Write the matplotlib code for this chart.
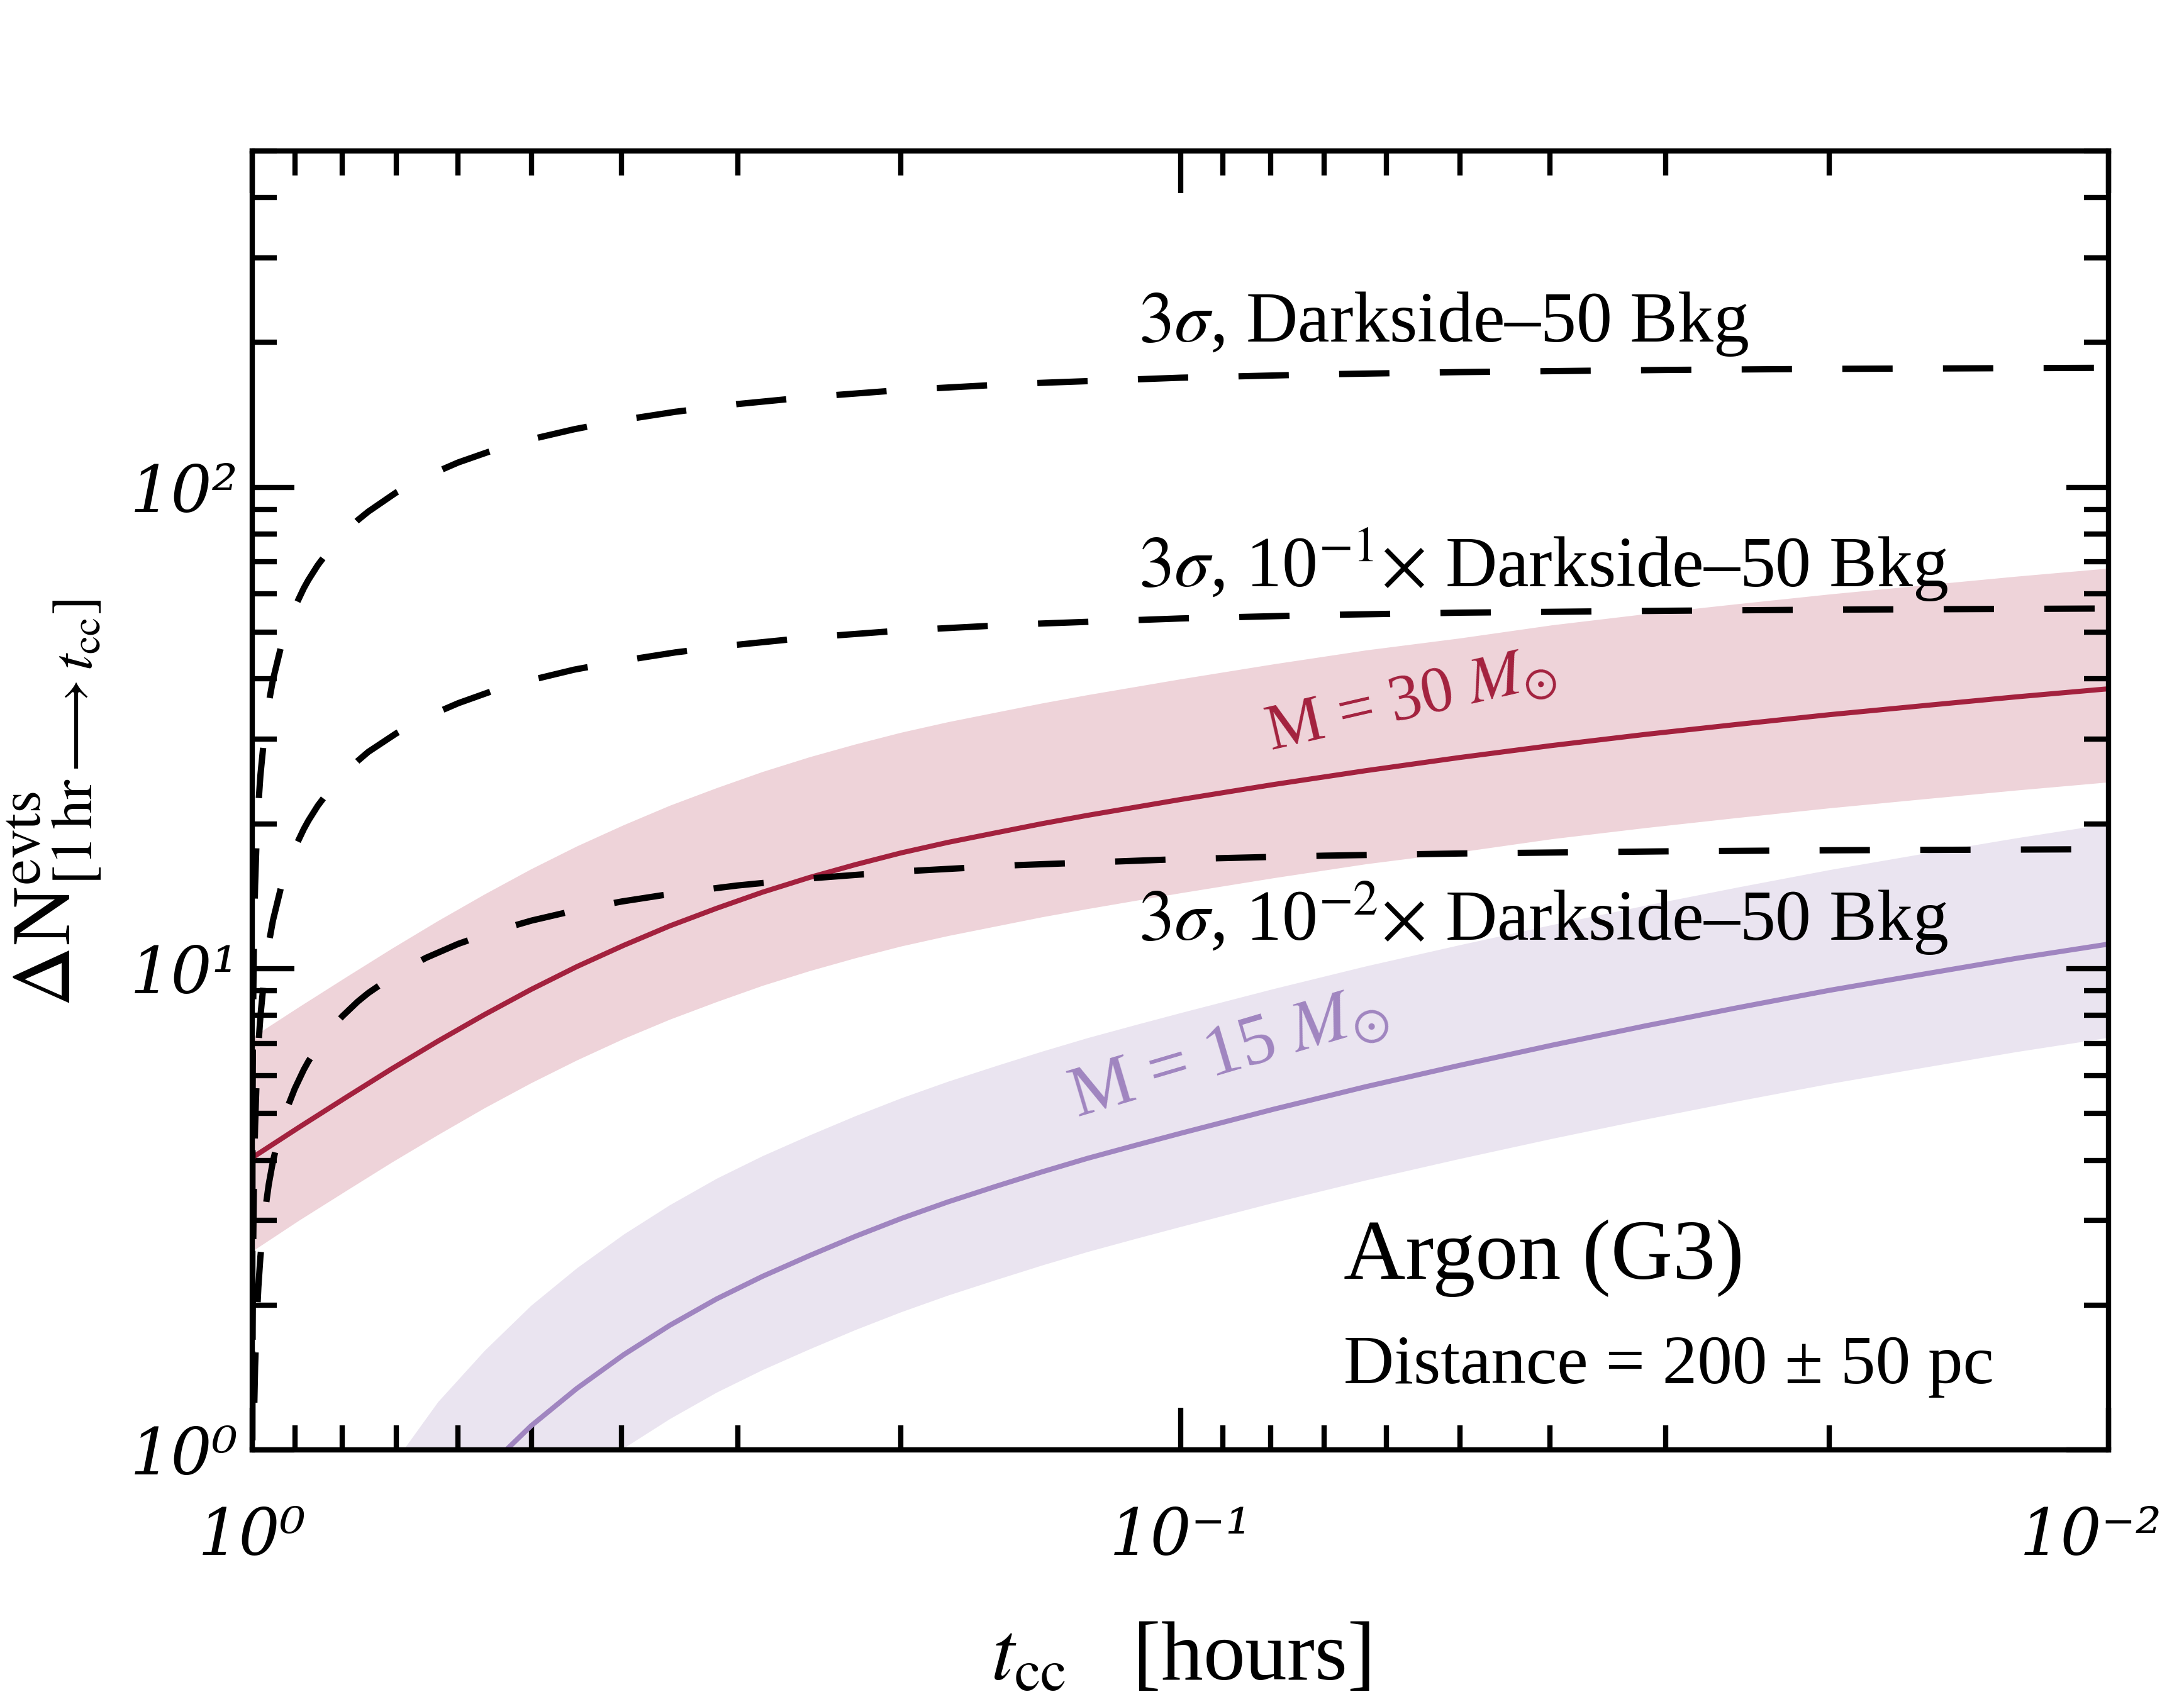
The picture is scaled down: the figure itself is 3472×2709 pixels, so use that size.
import numpy as np
import matplotlib
matplotlib.use('Agg')
import matplotlib.pyplot as plt
from matplotlib.ticker import LogLocator, NullFormatter
from matplotlib.transforms import ScaledTranslation

plt.rcParams['font.family'] = ['Liberation Serif', 'DejaVu Serif']
plt.rcParams['mathtext.fontset'] = 'stix'

# time before core collapse [hours], grid for the background thresholds
t_bkg = [0.99995, 0.9999, 0.9995, 0.999, 0.998, 0.996, 0.993, 0.99, 0.985, 0.98,
         0.97, 0.96, 0.95, 0.93, 0.915, 0.9, 0.88, 0.87, 0.85, 0.82,
         0.8, 0.77, 0.75, 0.7, 0.65, 0.6, 0.55, 0.5, 0.45, 0.4,
         0.35, 0.3, 0.25, 0.2, 0.15, 0.1, 0.07, 0.05, 0.03, 0.02, 0.01]

# 3 sigma thresholds
bkg_full = [1.26, 1.78, 3.98, 5.63, 7.96, 11.26, 14.9, 17.8, 21.8, 25.2,
            30.8, 35.6, 39.8, 47.1, 51.9, 56.3, 61.7, 64.2, 68.9, 75.5,
            79.6, 85.4, 89.0, 97.5, 105.3, 112.6, 119.4, 125.9, 132.0, 137.9,
            143.5, 148.9, 154.1, 159.2, 164.1, 168.9, 171.7, 173.5, 175.3, 176.2, 177.1]
bkg_tenth = [0.40, 0.563, 1.26, 1.78, 2.52, 3.56, 4.71, 5.63, 6.90, 7.96,
             9.75, 11.26, 12.59, 14.9, 16.4, 17.8, 19.5, 20.3, 21.8, 23.9,
             25.2, 27.0, 28.2, 30.8, 33.3, 35.6, 37.8, 39.8, 41.8, 43.6,
             45.4, 47.1, 48.8, 50.4, 51.9, 53.4, 54.3, 54.9, 55.4, 55.7, 56.0]
bkg_hundredth = [0.126, 0.178, 0.398, 0.563, 0.796, 1.126, 1.49, 1.78, 2.18, 2.52,
                 3.08, 3.56, 3.98, 4.71, 5.19, 5.63, 6.17, 6.42, 6.89, 7.55,
                 7.96, 8.54, 8.90, 9.75, 10.53, 11.26, 11.94, 12.59, 13.20, 13.79,
                 14.35, 14.89, 15.41, 15.92, 16.41, 16.89, 17.17, 17.35, 17.53, 17.62, 17.71]

# signal grid
t_sig = [1.0, 0.891, 0.794, 0.708, 0.631, 0.562, 0.501, 0.447, 0.398, 0.355, 0.316,
         0.282, 0.251, 0.224, 0.200, 0.178, 0.158, 0.141, 0.126, 0.112, 0.1,
         0.0794, 0.0631, 0.0501, 0.0398, 0.0316, 0.0251, 0.02, 0.0158, 0.0126, 0.01]

# M = 30 Msun at 200 pc (centre), 150 pc (upper edge), 250 pc (lower edge)
m30_mid = [4.05, 4.68, 5.39, 6.19, 7.07, 8.03, 9.05, 10.10, 11.18, 12.27, 13.35,
           14.42, 15.47, 16.45, 17.40, 18.30, 19.16, 20.01, 20.82, 21.64, 22.46,
           24.13, 25.79, 27.45, 29.08, 30.66, 32.18, 33.70, 35.20, 36.69, 38.15]
m30_hi = [7.21, 8.33, 9.59, 11.01, 12.58, 14.29, 16.11, 17.98, 19.90, 21.84, 23.76,
          25.67, 27.54, 29.28, 30.97, 32.57, 34.10, 35.62, 37.06, 38.52, 39.98,
          42.95, 45.91, 48.59, 51.76, 54.57, 57.28, 59.99, 62.66, 65.31, 67.91]
m30_lo = [2.59, 3.00, 3.45, 3.96, 4.52, 5.14, 5.79, 6.46, 7.16, 7.85, 8.54,
          9.23, 9.90, 10.53, 11.14, 11.71, 12.26, 12.81, 13.32, 13.85, 14.37,
          15.44, 16.51, 17.47, 18.61, 19.62, 20.60, 21.57, 22.53, 23.48, 24.42]

# M = 15 Msun
m15_mid = [0.158, 0.245, 0.363, 0.520, 0.708, 0.905, 1.122, 1.343, 1.578, 1.816, 2.061,
           2.296, 2.535, 2.780, 3.027, 3.278, 3.532, 3.784, 4.036, 4.293, 4.550,
           5.105, 5.689, 6.295, 6.934, 7.603, 8.299, 9.016, 9.750, 10.50, 11.25]
m15_hi = [0.281, 0.437, 0.646, 0.926, 1.260, 1.611, 1.997, 2.391, 2.809, 3.232, 3.669,
          4.087, 4.512, 4.948, 5.388, 5.835, 6.287, 6.736, 7.184, 7.642, 8.099,
          9.087, 10.13, 11.20, 12.34, 13.53, 14.77, 16.05, 17.36, 18.68, 20.02]
m15_lo = [0.101, 0.157, 0.232, 0.333, 0.453, 0.579, 0.718, 0.860, 1.010, 1.162, 1.319,
          1.469, 1.622, 1.779, 1.937, 2.098, 2.260, 2.422, 2.583, 2.748, 2.912,
          3.267, 3.640, 4.029, 4.438, 4.866, 5.311, 5.770, 6.240, 6.718, 7.197]

x_ticks = [1, 0.1, 0.01]
x_ticklabels = ['10⁰', '10⁻¹', '10⁻²']
y_ticks = [1, 10, 100]
y_ticklabels = ['10⁰', '10¹', '10²']

red = '#a3213e'
red_band = '#eed3d9'
purple = '#a085c0'
purple_band = '#eae4f0'

fig = plt.figure(figsize=(17.36, 13.545), dpi=200)
ax = fig.add_axes([0.1155, 0.149, 0.85, 0.7625])

ax.fill_between(t_sig, m30_lo, m30_hi, color=red_band, lw=0)
ax.fill_between(t_sig, m15_lo, m15_hi, color=purple_band, lw=0)
ax.plot(t_sig, m30_mid, color=red, lw=2.9)
ax.plot(t_sig, m15_mid, color=purple, lw=2.9)

dash = (0, (8, 8))
for vals in (bkg_full, bkg_tenth, bkg_hundredth):
    ax.plot(t_bkg, vals, color='black', lw=3.6, linestyle=dash)

ax.set_xscale('log')
ax.set_yscale('log')
ax.set_xlim(1, 0.01)
ax.set_ylim(1, 500)

tick_font = dict(family=['DejaVu Serif', 'DejaVu Sans'], style='italic', size=37)
ax.set_xticks(x_ticks, labels=x_ticklabels, **tick_font)
ax.set_yticks(y_ticks, labels=y_ticklabels, **tick_font)
ax.xaxis.set_minor_locator(LogLocator(base=10, subs=np.arange(2, 10)))
ax.yaxis.set_minor_locator(LogLocator(base=10, subs=np.arange(2, 10)))
ax.xaxis.set_minor_formatter(NullFormatter())
ax.yaxis.set_minor_formatter(NullFormatter())

ax.tick_params(which='both', direction='in', top=True, right=True, width=3, colors='black')
ax.tick_params(which='major', length=24)
ax.tick_params(which='minor', length=14)
ax.tick_params(axis='x', which='major', pad=32)
ax.tick_params(axis='y', which='major', pad=8)
for s in ax.spines.values():
    s.set_linewidth(3)

# nudge the last x label (10^-2) a little left so it stays on the canvas
last = ax.get_xticklabels()[-1]
last.set_transform(last.get_transform() + ScaledTranslation(-10 / 72, 0, fig.dpi_scale_trans))

ax.set_xlabel(r'$t_{\rm cc}$   [hours]', fontsize=48)
ax.xaxis.set_label_coords(0.5, -0.132)
ax.set_ylabel(r'$\Delta$N$^{\rm evts}_{[1\,{\rm hr}\longrightarrow t_{\rm cc}]}$', fontsize=48)
ax.yaxis.set_label_coords(-0.080, 0.498)

lab = dict(transform=ax.transAxes, fontsize=41, va='baseline', ha='left')
ax.text(0.4774, 0.853, r'$3\sigma$, Darkside–50 Bkg', **lab)
ax.text(0.4774, 0.6645, r'$3\sigma$, 10$^{-1}$$\times$ Darkside–50 Bkg', **lab)
ax.text(0.4774, 0.3925, r'$3\sigma$, 10$^{-2}$$\times$ Darkside–50 Bkg', **lab)

ax.text(0.624, 0.576, r'M = 30 $M_{\odot}$', transform=ax.transAxes, fontsize=37,
        color=red, rotation=13, ha='center', va='center', rotation_mode='anchor')
ax.text(0.526, 0.3045, r'M = 15 $M_{\odot}$', transform=ax.transAxes, fontsize=41,
        color=purple, rotation=16.5, ha='center', va='center', rotation_mode='anchor')

ax.text(0.588, 0.132, 'Argon (G3)', transform=ax.transAxes, fontsize=49, ha='left', va='baseline')
ax.text(0.588, 0.0516, 'Distance = 200 ± 50 pc', transform=ax.transAxes, fontsize=40,
        ha='left', va='baseline')

fig.savefig('out.png', dpi=200)
